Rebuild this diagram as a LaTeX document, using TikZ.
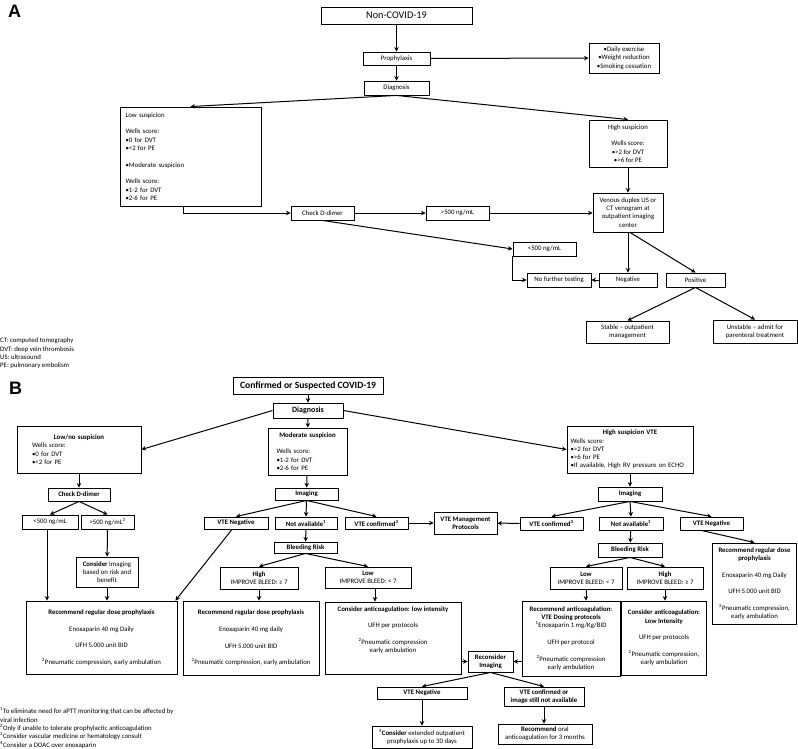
\documentclass[tikz,border=0pt]{standalone}
\usepackage{fontspec}
\usepackage{tikz}
\usetikzlibrary{arrows.meta}
\setmainfont{Carlito}
\newfontfamily\panelfont{Liberation Sans}
\newcommand{\boxfont}{\fontsize{6.8}{8.3}\selectfont}
\newcommand{\titlefont}{\fontsize{9.6}{11}\selectfont}

\begin{document}
\begin{tikzpicture}[
  x=1pt, y=-1pt,
  box/.style={rectangle, draw, line width=0.9pt, inner sep=1pt, font=\boxfont, align=center},
  boldbox/.style={box, font=\boxfont\bfseries},
  note/.style={anchor=west, align=left, inner sep=0pt, font=\boxfont},
  panel/.style={inner sep=0pt, font=\panelfont\fontsize{18}{18}\selectfont\bfseries},
  arrow/.style={-{Stealth[length=4.5pt,width=4.5pt]}, line width=1pt}
]
\useasboundingbox (0,0) rectangle (798,749);

% Panel A
\node[panel] (labA) at (14.5,11.5) {A};
\node[box, font=\fontsize{10.2}{12}\selectfont, minimum width=151pt, minimum height=17pt] (noncovid) at (396.5,15.5) {Non-COVID-19};
\node[box, minimum width=67pt, minimum height=13pt] (prophyA) at (396.5,58.5) {Prophylaxis};
\node[box, minimum width=65pt, minimum height=14pt] (diagA) at (396.5,88) {Diagnosis};
\node[box, minimum width=70pt, minimum height=30pt] (lifestyle) at (624,58) {•Daily exercise\\•Weight reduction\\•Smoking cessation};

% Suspicion
\node[box, align=left, text width=130pt, minimum width=141pt, minimum height=99pt] (lowA) at (190.5,156.5)
  {Low suspicion\\[8.3pt]Wells score:\\•0 for DVT\\•<2 for PE\\[8.3pt]•Moderate suspicion\\[8.3pt]Wells score:\\•1-2 for DVT\\•2-6 for PE};
\node[box, minimum width=78pt, minimum height=47pt] (highA) at (628,143.5) {High suspicion\\[8.3pt]Wells score:\\•>2 for DVT\\•>6 for PE};
\node[box, minimum width=70pt, minimum height=39pt] (venous) at (628,212.5) {Venous duplex US or\\CT venogram at\\outpatient imaging\\center};

% D-dimer
\node[box, minimum width=63pt, minimum height=14pt] (ddimerA) at (322.5,213) {Check D-dimer};
\node[box, minimum width=63pt, minimum height=14pt] (gt500A) at (457.5,213) {>500 ng/mL};
\node[box, minimum width=63pt, minimum height=14pt] (lt500A) at (544.5,249) {<500 ng/mL};
\node[box, minimum width=64pt, minimum height=14pt] (nofurther) at (559,280) {No further testing};

% Results
\node[box, minimum width=58pt, minimum height=14pt] (negA) at (628,280) {Negative};
\node[box, minimum width=59pt, minimum height=14pt] (posA) at (695.5,280) {Positive};
\node[box, minimum width=83pt, minimum height=22pt] (stable) at (627.5,332) {Stable – outpatient\\management};
\node[box, minimum width=84pt, minimum height=23pt] (unstable) at (755,331.5) {Unstable – admit for\\parenteral treatment};

\node[note] (abbrev) at (0,353.5) {CT: computed tomography\\DVT: deep vein thrombosis\\US: ultrasound\\PE: pulmonary embolism};

% Arrows A
\draw[arrow] (noncovid) -- (prophyA);
\draw[arrow] (prophyA) -- (diagA);
\draw[arrow] (prophyA) -- (lifestyle);
\draw[arrow] (diagA.south) -- (lowA.north);
\draw[arrow] (diagA.south) -- (highA.north);
\draw[arrow] (highA) -- (venous);
\draw[arrow] ([xshift=-7pt]lowA.south) |- (ddimerA);
\draw[arrow] (ddimerA) -- (gt500A);
\draw[arrow] (gt500A) -- (venous.west |- gt500A);
\draw[arrow] (ddimerA.south) -- (lt500A.west);
\draw[arrow] (lt500A.south west) |- (nofurther);
\draw[arrow] (venous) -- (negA);
\draw[arrow] (negA) -- (nofurther);
\draw[arrow] ([xshift=2pt]venous.south) -- (posA.north);
\draw[arrow] (posA.south) -- (stable.north);
\draw[arrow] (posA.south) -- (unstable.north);

% Panel B
\node[panel] (labB) at (15.5,388.5) {B};
\node[boldbox, font=\titlefont\bfseries, minimum width=150pt, minimum height=17pt] (confirmed) at (308,385.5) {Confirmed or Suspected COVID-19};
\node[boldbox, font=\fontsize{8}{9}\selectfont\bfseries, minimum width=70pt, minimum height=15pt] (diagB) at (308,410.5) {Diagnosis};

% Suspicion
\node[box, align=left, text width=94pt, minimum width=124pt, minimum height=47pt] (lownoB) at (79,449.5)
  {\makebox[\linewidth]{\textbf{Low/no suspicion}}\\Wells score:\\•0 for DVT\\•<2 for PE};
\node[box, align=left, text width=62pt, minimum width=79pt, minimum height=47pt] (modB) at (307.5,451.5)
  {\makebox[\linewidth]{\textbf{Moderate suspicion}}\\[8.3pt]Wells score:\\•1-2 for DVT\\•2-6 for PE};
\node[box, align=left, text width=119pt, minimum width=126pt, minimum height=47pt] (highB) at (630,449.5)
  {\makebox[\linewidth]{\textbf{High suspicion VTE}}\\Wells score:\\•>2 for DVT\\•>6 for PE\\•If available, High RV pressure on ECHO};

% Low/no branch
\node[boldbox, minimum width=62pt, minimum height=13pt] (ddimerB) at (79,494.5) {Check D-dimer};
\node[box, minimum width=56pt, minimum height=14pt] (lt500B) at (50,522) {<500 ng/mL};
\node[box, minimum width=53pt, minimum height=14pt] (gt500B) at (107.5,522) {>500 ng/mL\textsuperscript{3}};
\node[box, minimum width=62pt, minimum height=30pt] (considerImg) at (107,572) {\textbf{Consider} Imaging\\based on risk and\\benefit};
\node[box, minimum width=151pt, minimum height=73pt] (recLeft) at (101.5,637.5)
  {\textbf{Recommend regular dose prophylaxis}\\[8.3pt]Enoxaparin 40 mg Daily\\[8.3pt]UFH 5.000 unit BID\\[8.3pt]\textsuperscript{2}Pneumatic compression, early ambulation};

% Moderate branch
\node[boldbox, minimum width=63pt, minimum height=12pt] (imgMid) at (306.5,494) {Imaging};
\node[boldbox, minimum width=64pt, minimum height=12pt] (negMid) at (236,523) {VTE Negative};
\node[boldbox, minimum width=62pt, minimum height=12pt] (naMid) at (306,523) {Not available\textsuperscript{1}};
\node[boldbox, minimum width=63pt, minimum height=12pt] (confMid) at (376.5,523) {VTE confirmed\textsuperscript{3}};
\node[boldbox, minimum width=63pt, minimum height=22pt] (mgmt) at (465.5,523) {VTE Management\\Protocols};
\node[boldbox, minimum width=63pt, minimum height=11pt] (bleedMid) at (305.5,547.5) {Bleeding Risk};
\node[box, minimum width=78pt, minimum height=22pt] (highMid) at (259,578) {\textbf{High}\\IMPROVE BLEED: ≥ 7};
\node[box, minimum width=86pt, minimum height=21pt] (lowMid) at (368,577.5) {\textbf{Low}\\IMPROVE BLEED: < 7};
\node[box, minimum width=136pt, minimum height=74pt] (recMid) at (251,638)
  {\textbf{Recommend regular dose prophylaxis}\\[8.3pt]Enoxaparin 40 mg daily\\[8.3pt]UFH 5.000 unit BID\\[8.3pt]\textsuperscript{2}Pneumatic compression, early ambulation};
\node[box, minimum width=136pt, minimum height=72pt] (consMid) at (393,638)
  {\textbf{Consider anticoagulation: low intensity}\\[8.3pt]UFH per protocols\\[8.3pt]\textsuperscript{2}Pneumatic compression\\early ambulation\\[8.3pt]\mbox{}};

% High branch
\node[boldbox, minimum width=64pt, minimum height=14pt] (imgRight) at (630,494) {Imaging};
\node[boldbox, minimum width=63pt, minimum height=13pt] (confRight) at (551.5,523.5) {VTE confirmed\textsuperscript{3}};
\node[boldbox, minimum width=64pt, minimum height=13pt] (naRight) at (631,523.5) {Not available\textsuperscript{1}};
\node[boldbox, minimum width=63pt, minimum height=13pt] (negRight) at (711.5,523.5) {VTE Negative};
\node[boldbox, minimum width=64pt, minimum height=14pt] (bleedRight) at (630,550) {Bleeding Risk};
\node[box, minimum width=72pt, minimum height=22pt] (lowRight) at (586,578) {\textbf{Low}\\IMPROVE BLEED: < 7};
\node[box, minimum width=76pt, minimum height=22pt] (highRight) at (665,578) {\textbf{High}\\IMPROVE BLEED: ≥ 7};
\node[box, minimum width=84pt, minimum height=81pt] (recRight) at (754.5,583.5)
  {\textbf{Recommend regular dose}\\\textbf{prophylaxis}\\[8.3pt]Enoxaparin 40 mg Daily\\[8.3pt]UFH 5.000 unit BID\\[8.3pt]\textsuperscript{2}Pneumatic compression,\\early ambulation};
\node[box, minimum width=98pt, minimum height=75pt] (recAnti) at (571,638.5)
  {\textbf{Recommend anticoagulation:}\\\textbf{VTE Dosing protocols}\\\textsuperscript{1}Enoxaparin 1 mg/Kg/BID\\[8.3pt]UFH per protocol\\[8.3pt]\textsuperscript{2}Pneumatic compression\\early ambulation};
\node[box, minimum width=85pt, minimum height=74pt] (consRight) at (664,638)
  {\textbf{Consider anticoagulation:}\\\textbf{Low Intensity}\\[8.3pt]UFH per protocols\\[8.3pt]\textsuperscript{2}Pneumatic compression,\\early ambulation};

% Reconsider
\node[boldbox, minimum width=45pt, minimum height=21pt] (reconsider) at (490.5,661.5) {Reconsider\\Imaging};
\node[boldbox, minimum width=90pt, minimum height=12pt] (negBot) at (422,693) {VTE Negative};
\node[boldbox, minimum width=80pt, minimum height=19pt] (confBot) at (544,696.5) {VTE confirmed or\\image still not available};
\node[box, minimum width=100pt, minimum height=22pt] (extended) at (422,737) {\textsuperscript{4}\textbf{Consider} extended outpatient\\prophylaxis up to 30 days};
\node[box, minimum width=94pt, minimum height=20pt] (oral) at (545,734) {\textbf{Recommend} oral\\anticoagulation for 3 months};

\node[note] (fnotes) at (0,728) {\textsuperscript{1}To eliminate need for aPTT monitoring that can be affected by\\viral infection\\\textsuperscript{2}Only if unable to tolerate prophylactic anticoagulation\\\textsuperscript{3}Consider vascular medicine or hematology consult\\\textsuperscript{4}Consider a DOAC over enoxaparin};

% Arrows B
\draw[arrow] (confirmed) -- (diagB);
\draw[arrow] (diagB.west) -- (lownoB.east);
\draw[arrow] (diagB) -- (modB);
\draw[arrow] (diagB.east) -- (highB.west);
\draw[arrow] (lownoB) -- (ddimerB);
\draw[arrow] (ddimerB.south) -- (lt500B.north);
\draw[arrow] (ddimerB.south) -- (gt500B.north);
\draw[arrow] (gt500B) -- (considerImg);
\draw[arrow] ([xshift=-3pt]lt500B.south) -- ([xshift=-3pt]lt500B.south |- recLeft.north);
\draw[arrow] (considerImg) -- (recLeft.north -| considerImg);
\draw[arrow] ([xshift=-4pt]negMid.south) -- ([xshift=-2pt]recLeft.north east);
\draw[arrow] (modB) -- (imgMid);
\draw[arrow] (imgMid.south) -- (negMid.north);
\draw[arrow] (imgMid.south) -- (naMid.north);
\draw[arrow] (imgMid.south) -- (confMid.north);
\draw[arrow] (confMid) -- (mgmt);
\draw[arrow] (confRight) -- (mgmt);
\draw[arrow] (naMid) -- (bleedMid);
\draw[arrow] (bleedMid.south) -- (highMid.north);
\draw[arrow] (bleedMid.south) -- (lowMid.north);
\draw[arrow] (highMid) -- (recMid.north -| highMid);
\draw[arrow] ([xshift=7pt]lowMid.south) -- ([xshift=7pt]lowMid.south |- consMid.north);
\draw[arrow] (consMid.east |- reconsider) -- (reconsider);
\draw[arrow] (recAnti.west |- reconsider) -- (reconsider);
\draw[arrow] (reconsider.south) -- (negBot.north);
\draw[arrow] (reconsider.south) -- (confBot.north);
\draw[arrow] (negBot) -- (extended);
\draw[arrow] (confBot) -- (oral.north -| confBot);
\draw[arrow] (highB) -- (imgRight);
\draw[arrow] (imgRight.south) -- (confRight.north);
\draw[arrow] (imgRight.south) -- (naRight.north);
\draw[arrow] (imgRight.south) -- (negRight.north);
\draw[arrow] (naRight) -- (bleedRight);
\draw[arrow] (bleedRight.south) -- (lowRight.north);
\draw[arrow] (bleedRight.south) -- (highRight.north);
\draw[arrow] (lowRight) -- (recAnti.north -| lowRight);
\draw[arrow] (highRight) -- (consRight.north -| highRight);
\draw[arrow] ([xshift=-10pt]negRight.south) -- (recRight.north);

\end{tikzpicture}
\end{document}
